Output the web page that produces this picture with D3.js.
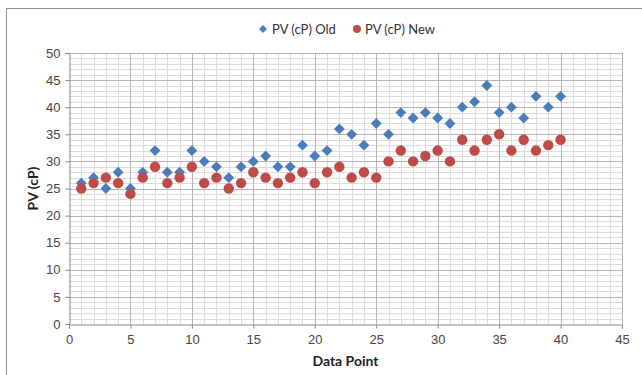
<!DOCTYPE html>
<html>
<head>
<meta charset="utf-8">
<script src="https://cdn.jsdelivr.net/npm/d3@7"></script>
<style>
  body { margin: 0; background: #fff; }
  svg { display: block; font-family: Lato, "Open Sans", sans-serif; }
</style>
</head>
<body>
<div class="chart"></div>
<script>
// data
const pointNo = d3.range(1, 41);
const pvOld = [26,27,25,28,25,28,32,28,28,32,30,29,27,29,30,31,29,29,33,31,
               32,36,35,33,37,35,39,38,39,38,37,40,41,44,39,40,38,42,40,42];
const pvNew = [25,26,27,26,24,27,29,26,27,29,26,27,25,26,28,27,26,27,28,26,
               28,29,27,28,27,30,32,30,31,32,30,34,32,34,35,32,34,32,33,34];
const xTicks = [0,5,10,15,20,25,30,35,40,45];
const yTicks = [0,5,10,15,20,25,30,35,40,45,50];

const W = 642, H = 375;
const margin = {left: 69, right: 20, top: 53, bottom: 51};

var svg = d3.select(".chart").append("svg")
  .attr("width", W).attr("height", H);

// outer chart frame
svg.append("rect")
  .attr("x", 6.5).attr("y", 8.5)
  .attr("width", W + 10).attr("height", H + 10)
  .attr("fill", "none").attr("stroke", "#8c8c8c");

var x = d3.scaleLinear().domain([0, 45]).range([margin.left, W - margin.right]);
var y = d3.scaleLinear().domain([0, 50]).range([H - margin.bottom, margin.top]);

var grid = svg.append("g");
// minor grid every 1 unit
grid.selectAll(".vminor").data(d3.range(1, 45).filter(d => d % 5))
  .enter().append("line")
  .attr("x1", d => Math.round(x(d)) + 0.5).attr("x2", d => Math.round(x(d)) + 0.5)
  .attr("y1", y(0)).attr("y2", y(50))
  .attr("stroke", "#dcdcdc");
grid.selectAll(".hminor").data(d3.range(1, 50).filter(d => d % 5))
  .enter().append("line")
  .attr("y1", d => Math.round(y(d)) + 0.5).attr("y2", d => Math.round(y(d)) + 0.5)
  .attr("x1", x(0)).attr("x2", x(45))
  .attr("stroke", "#dcdcdc");
// major grid every 5
grid.selectAll(".vmajor").data(xTicks.slice(1))
  .enter().append("line")
  .attr("x1", d => Math.round(x(d)) + 0.5).attr("x2", d => Math.round(x(d)) + 0.5)
  .attr("y1", y(0)).attr("y2", y(50))
  .attr("stroke", "#b4b4b4");
grid.selectAll(".hmajor").data(yTicks.slice(1))
  .enter().append("line")
  .attr("y1", d => Math.round(y(d)) + 0.5).attr("y2", d => Math.round(y(d)) + 0.5)
  .attr("x1", x(0)).attr("x2", x(45))
  .attr("stroke", "#b4b4b4");

// axes
var xAxis = svg.append("g")
  .attr("transform", "translate(0," + (Math.round(y(0)) + 0.5) + ")")
  .call(d3.axisBottom(x).tickValues(xTicks).tickSize(4).tickPadding(6));
var yAxis = svg.append("g")
  .attr("transform", "translate(" + (Math.round(x(0)) + 0.5) + ",0)")
  .call(d3.axisLeft(y).tickValues(yTicks).tickSize(4).tickPadding(5));
[xAxis, yAxis].forEach(a => {
  a.select(".domain").attr("stroke", "#868686");
  a.selectAll(".tick line").attr("stroke", "#868686");
  a.selectAll(".tick text").attr("fill", "#444").style("font-size", "13px");
});

// series
svg.append("g").selectAll("path")
  .data(pointNo)
  .enter().append("path")
  .attr("transform", (d, i) => "translate(" + x(d) + "," + y(pvOld[i]) + ")")
  .attr("d", d3.symbol().type(d3.symbolDiamond2).size(75))
  .attr("fill", "#4a7ebb");

svg.append("g").selectAll("circle")
  .data(pointNo)
  .enter().append("circle")
  .attr("cx", d => x(d))
  .attr("cy", (d, i) => y(pvNew[i]))
  .attr("r", 5.2)
  .attr("fill", "#be4b48");

// axis titles
svg.append("text")
  .attr("x", (x(0) + x(45)) / 2).attr("y", 366)
  .attr("text-anchor", "middle")
  .style("font-size", "14px").style("font-weight", "bold")
  .attr("fill", "#222")
  .text("Data Point");

svg.append("text")
  .attr("transform", "translate(38," + ((y(0) + y(50)) / 2) + ") rotate(-90)")
  .attr("text-anchor", "middle")
  .style("font-size", "14px").style("font-weight", "bold")
  .attr("fill", "#222")
  .text("PV (cP)");

// legend
var legend = svg.append("g").attr("transform", "translate(263,29)");
legend.append("path")
  .attr("d", d3.symbol().type(d3.symbolDiamond2).size(40))
  .attr("fill", "#4a7ebb");
legend.append("text").attr("x", 9).attr("y", 5)
  .style("font-size", "13px").attr("fill", "#333")
  .text("PV (cP) Old");
legend.append("circle").attr("cx", 94).attr("cy", 0).attr("r", 4)
  .attr("fill", "#be4b48");
legend.append("text").attr("x", 102).attr("y", 5)
  .style("font-size", "13px").attr("fill", "#333")
  .text("PV (cP) New");
</script>
</body>
</html>
